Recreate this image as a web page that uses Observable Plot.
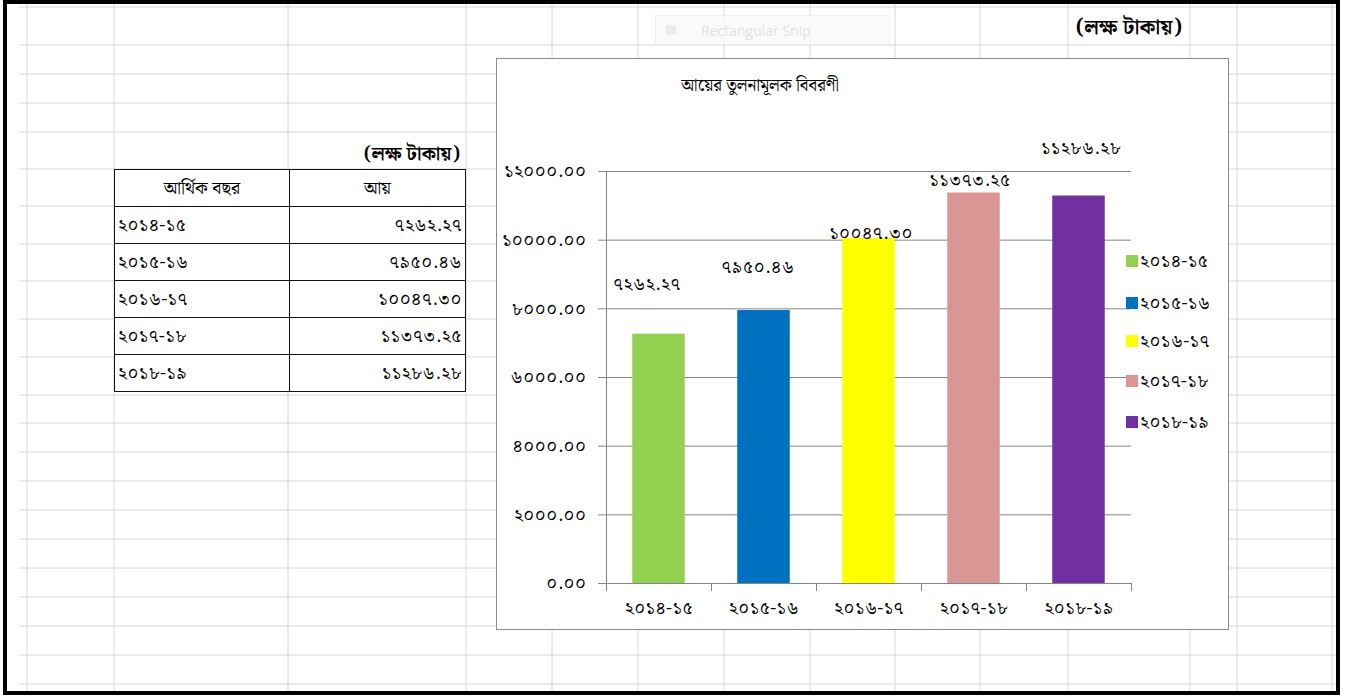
<!DOCTYPE html>
<html>
<head>
<meta charset="utf-8">
<script src="https://cdn.jsdelivr.net/npm/d3@7"></script>
<script src="https://cdn.jsdelivr.net/npm/@observablehq/plot@0.6"></script>
<style>
  html, body { margin: 0; padding: 0; background: #fff; }
  body { width: 1350px; height: 696px; overflow: hidden; position: relative;
         font-family: "Noto Serif Bengali", "Noto Sans Bengali", "Lohit Bengali", "FreeSerif", "Mukti", "Vrinda", serif; color: #000; }
  .abs { position: absolute; }
  #frame { left: 3px; top: 0; width: 1337px; height: 695px; border: 4px solid #000; box-sizing: border-box; }
  table.inc { position: absolute; left: 114px; top: 169px; width: 352px; border-collapse: collapse; font-size: 18px; }
  table.inc td, table.inc th { border: 1.5px solid #111; padding: 0 3px; height: 36px; font-weight: normal; }
  table.inc th { text-align: center; font-size: 18px; }
  table.inc td { letter-spacing: 0.5px; }
  table.inc td.v { text-align: right; }
  #chartbox { left: 496px; top: 58px; width: 733px; height: 572px; border: 1.5px solid #8c8c8c; box-sizing: border-box; background: #fff; }
  #title { left: 496px; width: 528px; top: 72px; text-align: center; font-size: 17px; }
  #plotwrap { left: 496px; top: 130px; }
  .leg { position: absolute; font-size: 18px; white-space: nowrap; line-height: 20px; letter-spacing: 0.5px; }
  .leg span.sw { display: inline-block; width: 12px; height: 12px; margin-right: 2px; vertical-align: 0px; }
  #snip { left: 655px; top: 15px; width: 235px; height: 30px; background: rgba(248,249,250,0.85); border: 1px solid #f0f0f0; box-sizing: border-box; }
  #snip .ico { position: absolute; left: 10px; top: 9px; width: 10px; height: 10px; background: #ececec; }
  #snip .txt { position: absolute; left: 45px; top: 5px; font-family: "Open Sans", sans-serif; font-size: 14px; color: #e2e2e2; }
</style>
</head>
<body>
<svg id="sheet" class="abs" width="1350" height="696" style="left:0;top:0"></svg>
<div id="frame" class="abs"></div>
<div id="snip" class="abs"><div class="ico"></div><div class="txt">Rectangular Snip</div></div>
<div id="unitTop" class="abs" style="left:1062px;width:134px;top:11px;text-align:center;font-size:21px;font-weight:bold;"></div>
<div id="unitTable" class="abs" style="left:290px;width:170px;top:139px;text-align:right;font-size:19px;font-weight:bold;"></div>
<div id="tableHolder"></div>
<div id="chartbox" class="abs"></div>
<div id="title" class="abs"></div>
<div id="plotwrap" class="abs"></div>
<div id="legend"></div>
<script>
// ---- data ----
const years = ["২০১৪-১৫", "২০১৫-১৬", "২০১৬-১৭", "২০১৭-১৮", "২০১৮-১৯"];
const income = [7262.27, 7950.46, 10047.30, 11373.25, 11286.28];
const yTicks = [0, 2000, 4000, 6000, 8000, 10000, 12000];
const chartTitle = "আয়ের তুলনামূলক বিবরণী";
const unitLabel = "(লক্ষ টাকায়)";
const tableHeaders = ["আর্থিক বছর", "আয়"];

// ---- style / layout ----
const barColors = ["#92D050", "#0070C0", "#FFFF00", "#D99694", "#7030A0"];
const labelLift = [50, 43, 5, 13, 48];          // px offsets of the data labels above bars
const labelShift = [-12, -6, 2, -4, 2];         // px horizontal nudges of the data labels
const sheetCols = [27, 114, 288, 466, 552, 638, 724, 810, 895, 980, 1068, 1190, 1237, 1332];
const sheetRows = [7, 45, 74, 103, 132, 169, 206, 244, 281, 319, 357, 395, 423, 452, 481, 510, 539, 568, 597, 626, 655, 684];
const legendTops = [252, 294, 332, 372, 413];
const FONT = '"Noto Serif Bengali", "Noto Sans Bengali", "Lohit Bengali", "FreeSerif", "Mukti", "Vrinda", serif';

const bnDigits = "০১২৩৪৫৬৭৮৯";
const bn = s => String(s).replace(/[0-9]/g, d => bnDigits[+d]);
const fmt = v => bn(v.toFixed(2));

// spreadsheet gridlines
const sheet = d3.select("#sheet");
sheet.selectAll("line.c").data(sheetCols).join("line")
  .attr("x1", d => d).attr("x2", d => d).attr("y1", 2).attr("y2", 692)
  .attr("stroke", "#d3d8e0").attr("stroke-width", 1);
sheet.selectAll("line.r").data(sheetRows).join("line")
  .attr("x1", 19).attr("x2", 1336).attr("y1", d => d).attr("y2", d => d)
  .attr("stroke", "#d3d8e0").attr("stroke-width", 1);

// texts
document.getElementById("unitTop").textContent = unitLabel;
document.getElementById("unitTable").textContent = unitLabel;
document.getElementById("title").textContent = chartTitle;

// table
const tbl = d3.select("#tableHolder").append("table").attr("class", "inc");
const hr = tbl.append("tr").style("background", "#fff");
hr.append("th").style("width", "168px").text(tableHeaders[0]);
hr.append("th").text(tableHeaders[1]);
years.forEach((y, i) => {
  const tr = tbl.append("tr").style("background", "#fff");
  tr.append("td").text(y);
  tr.append("td").attr("class", "v").text(fmt(income[i]));
});

// chart
const data = years.map((year, i) => ({i, year, value: income[i]}));
const gridColor = "#868686";
const chart = Plot.plot({
  width: 733,
  height: 493,
  marginLeft: 110,
  marginRight: 98,
  marginTop: 41,
  marginBottom: 40,
  style: {fontFamily: FONT, fontSize: "18px", color: "#000", background: "transparent", overflow: "visible", letterSpacing: "0.5px"},
  x: {domain: [0, years.length], axis: null},
  y: {domain: [0, 12000], axis: null},
  color: {domain: years, range: barColors},
  marks: [
    Plot.ruleY(yTicks, {stroke: gridColor, strokeWidth: 1}),
    Plot.ruleX([0], {y1: 0, y2: 12000, stroke: gridColor}),
    Plot.axisY({ticks: yTicks, label: null, tickSize: 8, tickPadding: 12, tickFormat: fmt, stroke: gridColor, fill: "#000", fontSize: 18}),
    Plot.axisX({ticks: d3.range(years.length + 1), label: null, tickSize: 8, tickFormat: () => "", stroke: gridColor}),
    Plot.axisX({ticks: years.map((_, i) => i + 0.5), label: null, tickSize: 0, tickPadding: 18, tickFormat: d => years[Math.floor(d)], fill: "#000", fontSize: 18}),
    Plot.rectY(data, {x1: d => d.i + 0.25, x2: d => d.i + 0.75, y: "value", fill: "year"}),
    ...data.map((d, k) => Plot.text([d], {x: e => e.i + 0.5, y: "value", text: e => fmt(e.value), dy: -labelLift[k], dx: labelShift[k], fontSize: 18, fill: "#000"}))
  ]
});
document.getElementById("plotwrap").appendChild(chart);

// legend
const leg = d3.select("#legend");
years.forEach((y, i) => {
  const it = leg.append("div").attr("class", "leg").style("left", "1126px").style("top", legendTops[i] + "px");
  it.append("span").attr("class", "sw").style("background", barColors[i]);
  it.append("span").text(y);
});
</script>
</body>
</html>
